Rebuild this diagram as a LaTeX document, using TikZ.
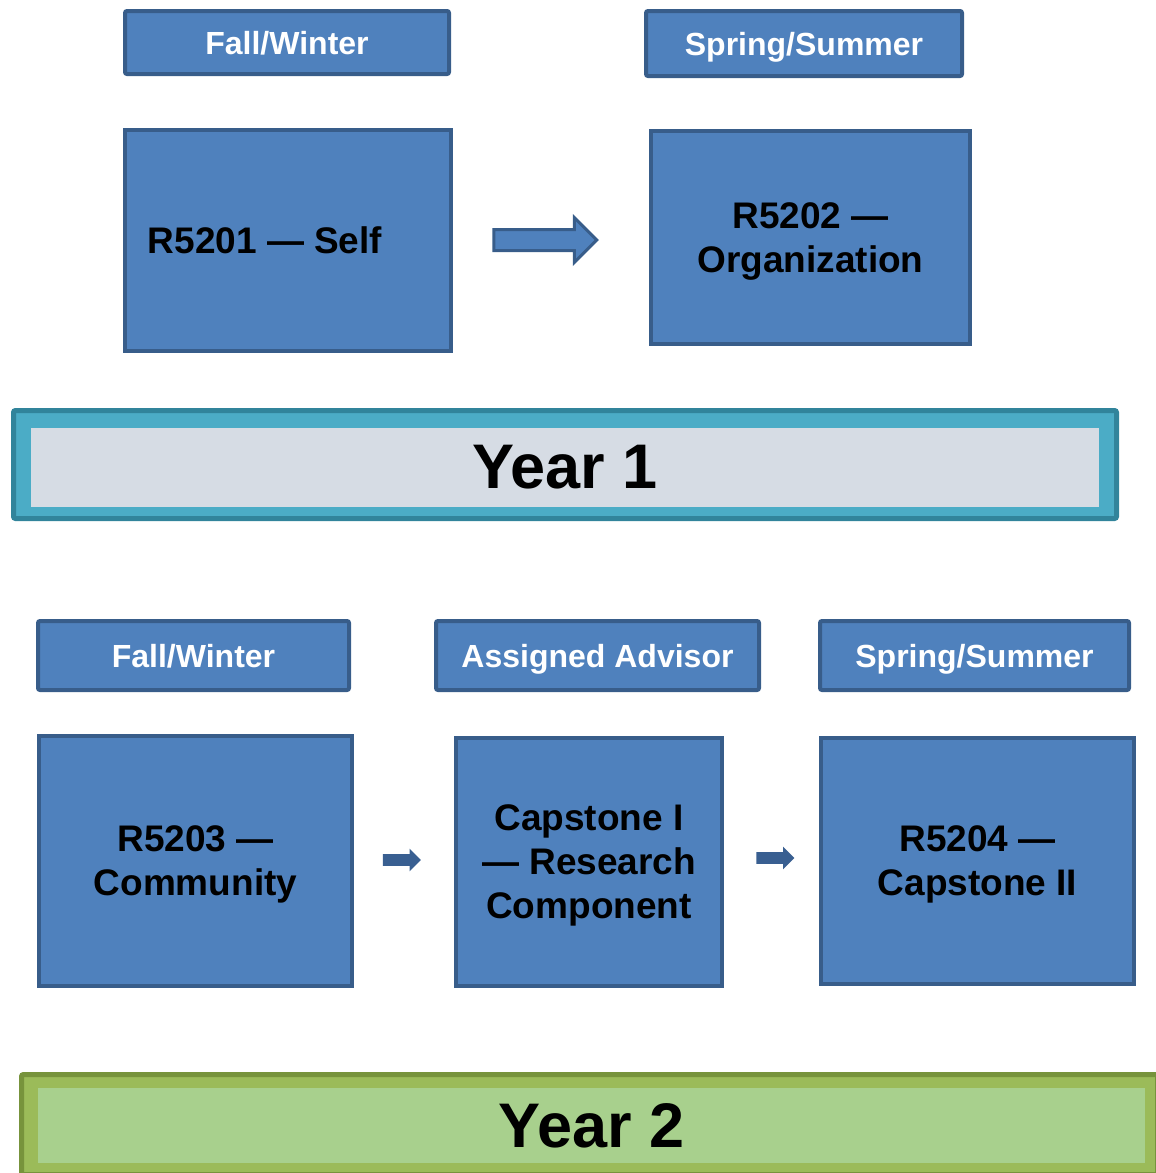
\documentclass[tikz,border=0pt]{standalone}
\usepackage{fontspec}
\setmainfont{Liberation Sans}
\usepackage{tikz}
\usetikzlibrary{shapes.arrows}

\definecolor{boxblue}{HTML}{4F81BD}
\definecolor{boxline}{HTML}{385D8A}
\definecolor{arrowblue}{HTML}{395F91}
\definecolor{tealline}{HTML}{31849B}
\definecolor{tealfill}{HTML}{4BACC6}
\definecolor{tealin}{HTML}{D6DCE4}
\definecolor{oliveline}{HTML}{77933C}
\definecolor{olivefill}{HTML}{9BBB59}
\definecolor{olivein}{HTML}{A8D08D}

\tikzset{
  term/.style={draw=boxline, fill=boxblue, line width=2pt, rounded corners=1pt, text=white,
    text depth=0pt, font=\bfseries\fontsize{16}{19}\selectfont},
  course/.style={draw=boxline, fill=boxblue, line width=2pt, text=black, align=center,
    text depth=0pt, font=\bfseries\fontsize{18.5}{22}\selectfont},
  bigarrow/.style={single arrow, draw=boxline, fill=boxblue, line width=1.5pt,
    inner xsep=0pt, inner ysep=4.5pt, single arrow head extend=6pt, minimum height=51.5pt},
  smallarrow/.style={single arrow, fill=arrowblue,
    inner xsep=0pt, inner ysep=2.75pt, single arrow head extend=2.75pt, minimum height=19pt},
  banner/.style={line width=2.5pt, rounded corners=1pt},
  yeartext/.style={text=black, font=\bfseries\fontsize{31.5}{36}\selectfont}
}

\begin{document}
\begin{tikzpicture}[x=0.5pt, y=-0.5pt]
  \useasboundingbox (0,0) rectangle (1156,1173);

  \node[term, minimum width=162pt, minimum height=31.5pt] (fw1) at (287,42.5) {Fall/Winter};
  \node[term, minimum width=158pt, minimum height=32.5pt] (ss1) at (804,43.5) {Spring/Summer};

  \node[course, minimum width=163pt, minimum height=110.5pt] (r5201) at (288,240.5) {R5201 — Self\hspace*{23pt}};
  \node[course, minimum width=159.5pt, minimum height=106.5pt] (r5202) at (810.5,237.5) {R5202 —\\Organization};
  \node[bigarrow] (ar1) at (540,240) {};

  \node[banner, draw=tealline, fill=tealfill, minimum width=551.5pt, minimum height=54pt] (yr1frame) at (565,464.5) {};
  \node[yeartext, fill=tealin, minimum width=534pt, minimum height=39.5pt] (yr1) at (565,467.5) {Year 1};

  \node[term, minimum width=155.5pt, minimum height=34.5pt] (fw2) at (193.5,655.5) {Fall/Winter};
  \node[term, minimum width=161.5pt, minimum height=34.5pt] (adv) at (597.5,655.5) {Assigned Advisor};
  \node[term, minimum width=154.5pt, minimum height=34.5pt] (ss2) at (974.5,655.5) {Spring/Summer};

  \node[course, minimum width=156.5pt, minimum height=125pt] (r5203) at (195.5,861) {R5203 —\\Community};
  \node[course, minimum width=133pt, minimum height=124pt] (cap1) at (589,862) {Capstone I\\— Research\\Component};
  \node[course, minimum width=156.5pt, minimum height=123pt] (r5204) at (977.5,861) {R5204 —\\Capstone II};
  \node[smallarrow] (ar2) at (399,860) {};
  \node[smallarrow] (ar3) at (772.5,858) {};

  \node[banner, draw=oliveline, fill=olivefill, minimum width=568pt, minimum height=50pt] (yr2frame) at (589.5,1124.5) {};
  \node[yeartext, fill=olivein, minimum width=553.5pt, minimum height=37.5pt] (yr2) at (591.5,1125.5) {Year 2};
\end{tikzpicture}
\end{document}
